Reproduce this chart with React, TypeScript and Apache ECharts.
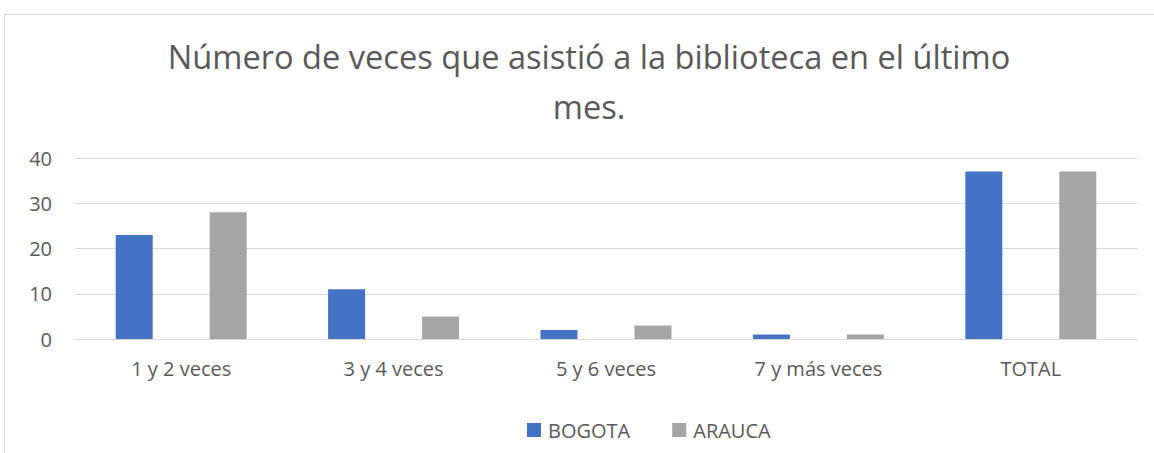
import React, { useEffect, useRef } from "react";
import * as echarts from "echarts";

const categories = ["1 y 2 veces", "3 y 4 veces", "5 y 6 veces", "7 y más veces", "TOTAL"];
const bogota = [23, 11, 2, 1, 37];
const arauca = [28, 5, 3, 1, 37];
const seriesNames = ["BOGOTA", "ARAUCA"];
const titleText = "Número de veces que asistió a la biblioteca en el último\nmes.";

export default function App() {
  const ref = useRef<HTMLDivElement>(null);
  useEffect(() => {
    document.body.style.margin = "0";
    const chart = echarts.init(ref.current!, null, { renderer: "svg" });
    const font = "'Open Sans', sans-serif";
    chart.setOption({
      animation: false,
      textStyle: { fontFamily: font },
      title: {
        text: titleText,
        left: 584,
        top: 26,
        textAlign: "center",
        textStyle: { fontSize: 32.6, lineHeight: 50, fontWeight: "normal", color: "#595959", fontFamily: font },
      },
      graphic: [
        {
          type: "rect",
          shape: { x: 4.5, y: 14.5, width: 1300, height: 600 },
          style: { fill: "none", stroke: "#d9d9d9", lineWidth: 1 },
          silent: true,
          z: -1,
        },
      ],
      legend: {
        bottom: 8,
        left: 522,
        itemWidth: 14,
        itemHeight: 14,
        itemGap: 42,
        icon: "rect",
        textStyle: { fontSize: 20, color: "#595959", fontFamily: font, padding: [0, 0, 0, 2] },
        data: seriesNames,
      },
      grid: { left: 75, right: 17, top: 158, bottom: 114, containLabel: false },
      xAxis: {
        type: "category",
        data: categories,
        axisLine: { lineStyle: { color: "#d9d9d9", width: 1 } },
        axisTick: { show: false },
        axisLabel: { fontSize: 20, color: "#595959", margin: 19, fontFamily: font },
      },
      yAxis: {
        type: "value",
        min: 0,
        max: 40,
        interval: 10,
        axisLine: { show: false },
        axisTick: { show: false },
        splitLine: { lineStyle: { color: "#d9d9d9", width: 1 } },
        axisLabel: { fontSize: 20, color: "#595959", margin: 23, fontFamily: font },
      },
      series: [
        {
          name: seriesNames[0],
          type: "bar",
          data: bogota,
          barWidth: 37,
          barGap: "154%",
          itemStyle: { color: "#4472C4" },
        },
        {
          name: seriesNames[1],
          type: "bar",
          data: arauca,
          barWidth: 37,
          itemStyle: { color: "#A5A5A5" },
        },
      ],
    });
    return () => chart.dispose();
  }, []);
  return <div ref={ref} style={{ width: 1154, height: 453 }} />;
}
